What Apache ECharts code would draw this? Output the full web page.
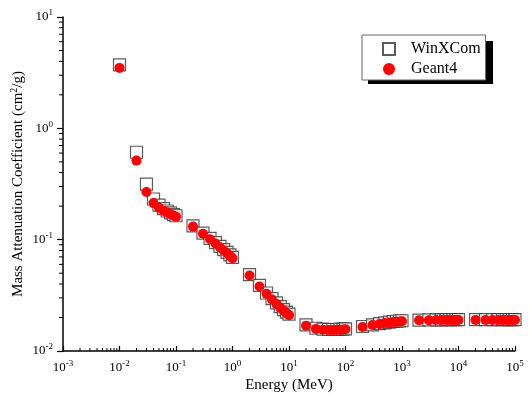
<!DOCTYPE html>
<html>
<head>
<meta charset="utf-8">
<script src="https://cdn.jsdelivr.net/npm/echarts@6/dist/echarts.min.js"></script>
<style>
  html, body { margin: 0; padding: 0; background: #fff; }
  #chart { width: 530px; height: 401px; }
</style>
</head>
<body>
<div id="chart"></div>
<script>
// photon energies (MeV)
const energies = [
  0.01, 0.02, 0.03, 0.04, 0.05, 0.06, 0.07, 0.08, 0.09, 0.1,
  0.2, 0.3, 0.4, 0.5, 0.6, 0.7, 0.8, 0.9, 1,
  2, 3, 4, 5, 6, 7, 8, 9, 10,
  20, 30, 40, 50, 60, 70, 80, 90, 100,
  200, 300, 400, 500, 600, 700, 800, 900, 1000,
  2000, 3000, 4000, 5000, 6000, 7000, 8000, 9000, 10000,
  20000, 30000, 40000, 50000, 60000, 70000, 80000, 90000, 100000
]
// mass attenuation coefficient (cm2/g)
const winxcom = [
  3.72, 0.61, 0.316, 0.232, 0.204, 0.190, 0.181, 0.174, 0.168, 0.164,
  0.133, 0.1145, 0.1025, 0.094, 0.087, 0.0815, 0.077, 0.073, 0.0693,
  0.0485, 0.0388, 0.0332, 0.0296, 0.0270, 0.0250, 0.0235, 0.0223, 0.0214,
  0.0172, 0.0160, 0.0157, 0.0156, 0.0156, 0.0156, 0.0157, 0.0157, 0.0158,
  0.0166, 0.0172, 0.0176, 0.0179, 0.0182, 0.0184, 0.0185, 0.0186, 0.0187,
  0.0189, 0.0190, 0.0190, 0.0190, 0.0191, 0.0191, 0.0191, 0.0191, 0.0191,
  0.0191, 0.0191, 0.0191, 0.0191, 0.0191, 0.0191, 0.0191, 0.0191, 0.0191
]
const geant4 = [
  3.49, 0.513, 0.268, 0.213, 0.193, 0.182, 0.175, 0.169, 0.165, 0.161,
  0.131, 0.113, 0.101, 0.0925, 0.0855, 0.080, 0.0755, 0.0715, 0.068,
  0.0476, 0.0380, 0.0326, 0.0290, 0.0265, 0.0245, 0.0231, 0.0219, 0.0210,
  0.0169, 0.0158, 0.0155, 0.0154, 0.0154, 0.0155, 0.0155, 0.0156, 0.0157,
  0.0164, 0.0171, 0.0175, 0.0178, 0.0180, 0.0182, 0.0183, 0.0184, 0.0185,
  0.0189, 0.0189, 0.0190, 0.0190, 0.0190, 0.0190, 0.0190, 0.0190, 0.0190,
  0.0190, 0.0190, 0.0190, 0.0190, 0.0190, 0.0190, 0.0190, 0.0190, 0.0190
]
const xDecades = [-3, -2, -1, 0, 1, 2, 3, 4]
const yDecades = [-2, -1, 0]

const X_MIN = 0.001, X_MAX = 100000, Y_MIN = 0.01, Y_MAX = 10
const font = 'Liberation Serif, Times New Roman, serif'

// minor tick positions 2..9 x 10^n
const xMinor = []
xDecades.forEach(d => { for (let k = 2; k <= 9; k++) xMinor.push([k * Math.pow(10, d), 'x']) })
const yMinor = []
yDecades.forEach(d => { for (let k = 2; k <= 9; k++) yMinor.push([k * Math.pow(10, d), 'y']) })

const supLabel = v => {
    const e = Math.round(Math.log10(v))
    return '{b|10}{s|' + e + '}'
}
const labelRich = {
    b: { fontFamily: font, fontSize: 13, color: '#000' },
    s: { fontFamily: font, fontSize: 9, color: '#000', padding: [0, 0, 8, 0] }
}

const chart = echarts.init(document.getElementById('chart'))
chart.setOption({
    backgroundColor: '#fff',
    animation: false,
    grid: { left: 63, right: 15, top: 17, bottom: 50, containLabel: false, outerBoundsMode: 'none' },
    // drop shadow behind the legend box
    graphic: [{
        type: 'rect',
        left: 368,
        top: 41,
        z: 0,
        shape: { width: 125, height: 43 },
        style: { fill: '#000' }
    }],
    legend: {
        data: ['WinXCom', 'Geant4'],
        orient: 'vertical',
        left: 362,
        top: 35,
        z: 10,
        padding: [6, 5, 3, 20],
        itemGap: 4,
        itemWidth: 12,
        itemHeight: 12,
        backgroundColor: '#fff',
        borderColor: '#666',
        borderWidth: 1,
        borderRadius: 0,
        textStyle: { fontFamily: font, fontSize: 16, lineHeight: 16, color: '#000', padding: [0, 0, 0, 11] }
    },
    xAxis: {
        type: 'log',
        logBase: 10,
        min: X_MIN,
        max: X_MAX,
        splitNumber: 8,
        name: 'Energy (MeV)',
        nameLocation: 'middle',
        nameGap: 27,
        nameMoveOverlap: false,
        nameTextStyle: { fontFamily: font, fontSize: 15, color: '#000' },
        axisLine: { onZero: false, lineStyle: { color: '#000', width: 1.5 } },
        axisTick: { inside: true, length: 5, lineStyle: { color: '#000', width: 1.2 } },
        axisLabel: { formatter: supLabel, rich: labelRich, margin: 8 },
        splitLine: { show: false }
    },
    yAxis: {
        type: 'log',
        logBase: 10,
        min: Y_MIN,
        max: Y_MAX,
        splitNumber: 3,
        name: 'Mass Attenuation Coefficient (cm{s|2}/g)',
        nameLocation: 'middle',
        nameGap: 36,
        nameMoveOverlap: false,
        nameRotate: 90,
        nameTextStyle: {
            fontFamily: font, fontSize: 15, color: '#000',
            rich: { s: { fontFamily: font, fontSize: 10, color: '#000', padding: [0, 0, 8, 0] } }
        },
        axisLine: { onZero: false, lineStyle: { color: '#000', width: 1.5 } },
        axisTick: { inside: false, length: 6, lineStyle: { color: '#000', width: 1.2 } },
        axisLabel: { formatter: supLabel, rich: labelRich, margin: 10 },
        splitLine: { show: false }
    },
    series: [
        {
            name: 'minorTicks',
            type: 'custom',
            silent: true,
            clip: false,
            data: xMinor.concat(yMinor),
            renderItem: (params, api) => {
                const v = api.value(0)
                const isX = xMinor.length > params.dataIndex
                if (isX) {
                    const p = api.coord([v, Y_MIN])
                    return { type: 'line', shape: { x1: p[0], y1: p[1], x2: p[0], y2: p[1] - 3 }, style: { stroke: '#000', lineWidth: 1 } }
                }
                const p = api.coord([X_MIN, v])
                return { type: 'line', shape: { x1: p[0], y1: p[1], x2: p[0] - 4, y2: p[1] }, style: { stroke: '#000', lineWidth: 1 } }
            },
            encode: { x: -1, y: -1 }
        },
        {
            name: 'WinXCom',
            type: 'scatter',
            symbol: 'rect',
            symbolSize: 12,
            itemStyle: { color: '#fff', borderColor: '#333', borderWidth: 1.2 },
            data: energies.map((e, i) => [e, winxcom[i]]),
            z: 3
        },
        {
            name: 'Geant4',
            type: 'scatter',
            symbol: 'circle',
            symbolSize: 10,
            itemStyle: { color: '#ff0000', opacity: 1 },
            data: energies.map((e, i) => [e, geant4[i]]),
            z: 4
        }
    ]
})
</script>
</body>
</html>
